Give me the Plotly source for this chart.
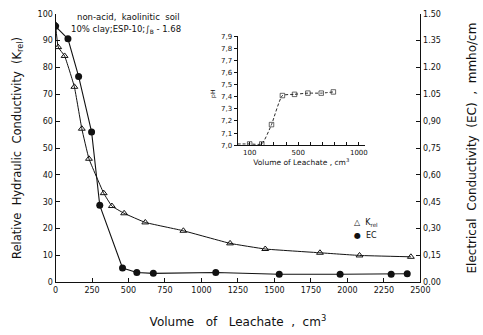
import plotly.graph_objects as go

# ---- data ----
krel_vol = [0, 18, 62, 129, 180, 229, 330, 386, 470, 615, 876, 1196, 1437, 1812, 2083, 2435]
krel_val = [96, 87.6, 84.3, 72.8, 57.2, 46, 33.2, 28.4, 25.7, 22.3, 19.2, 14.5, 12.4, 11, 10, 9.5]

ec_vol = [0, 85, 158, 247, 303, 459, 557, 670, 1098, 1533, 1950, 2300, 2410]
ec_val = [1.43, 1.36, 1.15, 0.84, 0.43, 0.08, 0.055, 0.05, 0.055, 0.045, 0.045, 0.045, 0.048]

ph_vol = [0, 100, 200, 280, 370, 470, 580, 690, 790]
ph_val = [7.01, 7.01, 7.01, 7.17, 7.41, 7.42, 7.43, 7.43, 7.44]
ph_marker = [0, 4.5, 4.5, 4.5, 4.5, 4.5, 4.5, 4.5, 4.5]

x_ticks = [0, 250, 500, 750, 1000, 1250, 1500, 1750, 2000, 2250, 2500]
y_ticks = [0, 10, 20, 30, 40, 50, 60, 70, 80, 90, 100]
ec_ticks = [0, 0.15, 0.30, 0.45, 0.60, 0.75, 0.90, 1.05, 1.20, 1.35, 1.50]
ec_ticktext = ["0.00", "0,15", "0,30", "0,45", "0,60", "0,75", "0,90", "1.05", "1.20", "1.35", "1.50"]
ph_ticks = [7.0, 7.1, 7.2, 7.3, 7.4, 7.5, 7.6, 7.7, 7.8, 7.9]
ph_ticktext = ["7,0", "7,1", "7,2", "7,3", "7,4", "7,5", "7,6", "7,7", "7,8", "7,9"]
ph_x_ticks = [100, 500, 1000]

FONT = "DejaVu Sans"
BLACK = "#111111"
W, H = 483, 335


def px(x, y):
    return x / W, 1 - y / H


fig = go.Figure()

fig.add_trace(go.Scatter(
    x=krel_vol, y=krel_val, mode="lines+markers", showlegend=False,
    line=dict(color=BLACK, width=1, shape="spline", smoothing=0.3),
    marker=dict(symbol="triangle-up-open", size=6, color=BLACK, line=dict(width=1)),
    xaxis="x", yaxis="y"))

fig.add_trace(go.Scatter(
    x=ec_vol, y=ec_val, mode="lines+markers", showlegend=False,
    line=dict(color=BLACK, width=1.1, shape="linear"),
    marker=dict(symbol="circle", size=7, color=BLACK),
    xaxis="x", yaxis="y2"))

# inset pH
fig.add_trace(go.Scatter(
    x=ph_vol, y=ph_val, mode="lines+markers", showlegend=False,
    line=dict(color=BLACK, width=0.9, dash="3px,2px", shape="spline", smoothing=0.5),
    marker=dict(symbol="square-open", size=ph_marker, color=BLACK, line=dict(width=0.9)),
    xaxis="x3", yaxis="y3"))

tickfont = dict(family=FONT, size=8, color=BLACK)

anns = []
for (tx, x, y, size) in [
    ("non-acid,  kaolinitic  soil", 74, 13, 8.5),
    ("10% clay;ESP-10;∫<sub>B</sub> - 1.68", 68, 26, 8.5),
    ("△  K<sub>rel</sub>", 359, 225, 8),
    ("●  EC", 359, 238, 8),
]:
    ax_, ay_ = px(x, y)
    anns.append(dict(text=tx, x=ax_, y=ay_, xref="paper", yref="paper",
                     xanchor="left", yanchor="middle", showarrow=False,
                     font=dict(family=FONT, size=size, color=BLACK)))
phx, phy = px(216, 86)
anns.append(dict(text="pH", x=phx, y=phy, xref="paper", yref="paper", textangle=-90,
                 showarrow=False, font=dict(family=FONT, size=6, color=BLACK)))

fig.update_layout(
    width=W, height=H,
    margin=dict(l=0, r=0, t=0, b=0),
    paper_bgcolor="white", plot_bgcolor="rgba(0,0,0,0)",
    font=dict(family=FONT, color=BLACK),
    showlegend=False,
    xaxis=dict(domain=[0.1118, 0.888], range=[0, 2500], tickvals=x_ticks,
               ticks="inside", ticklen=4, tickcolor=BLACK, showgrid=False, zeroline=False,
               showline=True, linecolor=BLACK, linewidth=1.2, tickfont=tickfont,
               title=dict(text="Volume   of   Leachate  ,  cm<sup>3</sup>",
                          font=dict(family=FONT, size=12, color=BLACK), standoff=23)),
    yaxis=dict(domain=[0.1463, 0.970], range=[0, 100], tickvals=y_ticks,
               ticks="inside", ticklen=4, tickcolor=BLACK, showgrid=False, zeroline=False,
               showline=True, linecolor=BLACK, linewidth=1.2, tickfont=tickfont,
               title=dict(text="Relative  Hydraulic  Conductivity  (K<sub>rel</sub>)",
                          font=dict(family=FONT, size=11.5, color=BLACK), standoff=13)),
    yaxis2=dict(domain=[0.1463, 0.970], range=[0, 1.5], overlaying="y", side="right", anchor="x",
                tickvals=ec_ticks, ticktext=ec_ticktext,
                ticks="inside", ticklen=4, tickcolor=BLACK, showgrid=False, zeroline=False,
                showline=True, linecolor=BLACK, linewidth=1.2, tickfont=tickfont,
                title=dict(text="Electrical  Conductivity  (EC)  ,  mmho/cm",
                           font=dict(family=FONT, size=12, color=BLACK), standoff=27)),
    xaxis3=dict(domain=[0.499, 0.770], range=[0, 1050], anchor="y3",
                tickvals=ph_x_ticks, ticks="", showgrid=False, zeroline=False,
                showline=True, linecolor=BLACK, linewidth=1, tickfont=dict(family=FONT, size=7, color=BLACK),
                minor=dict(dtick=100, tick0=0, ticks="inside", ticklen=3, tickcolor=BLACK),
                title=dict(text="Volume of Leachate , cm<sup>3</sup>",
                           font=dict(family=FONT, size=7.5, color=BLACK), standoff=4)),
    yaxis3=dict(domain=[0.567, 0.901], range=[7.0, 7.9], anchor="x3",
                tickvals=ph_ticks, ticktext=ph_ticktext,
                ticks="outside", ticklen=3, tickcolor=BLACK, showgrid=False, zeroline=False,
                showline=True, linecolor=BLACK, linewidth=1, tickfont=dict(family=FONT, size=7, color=BLACK)),
    annotations=anns,
)

fig.write_html("out.html")
